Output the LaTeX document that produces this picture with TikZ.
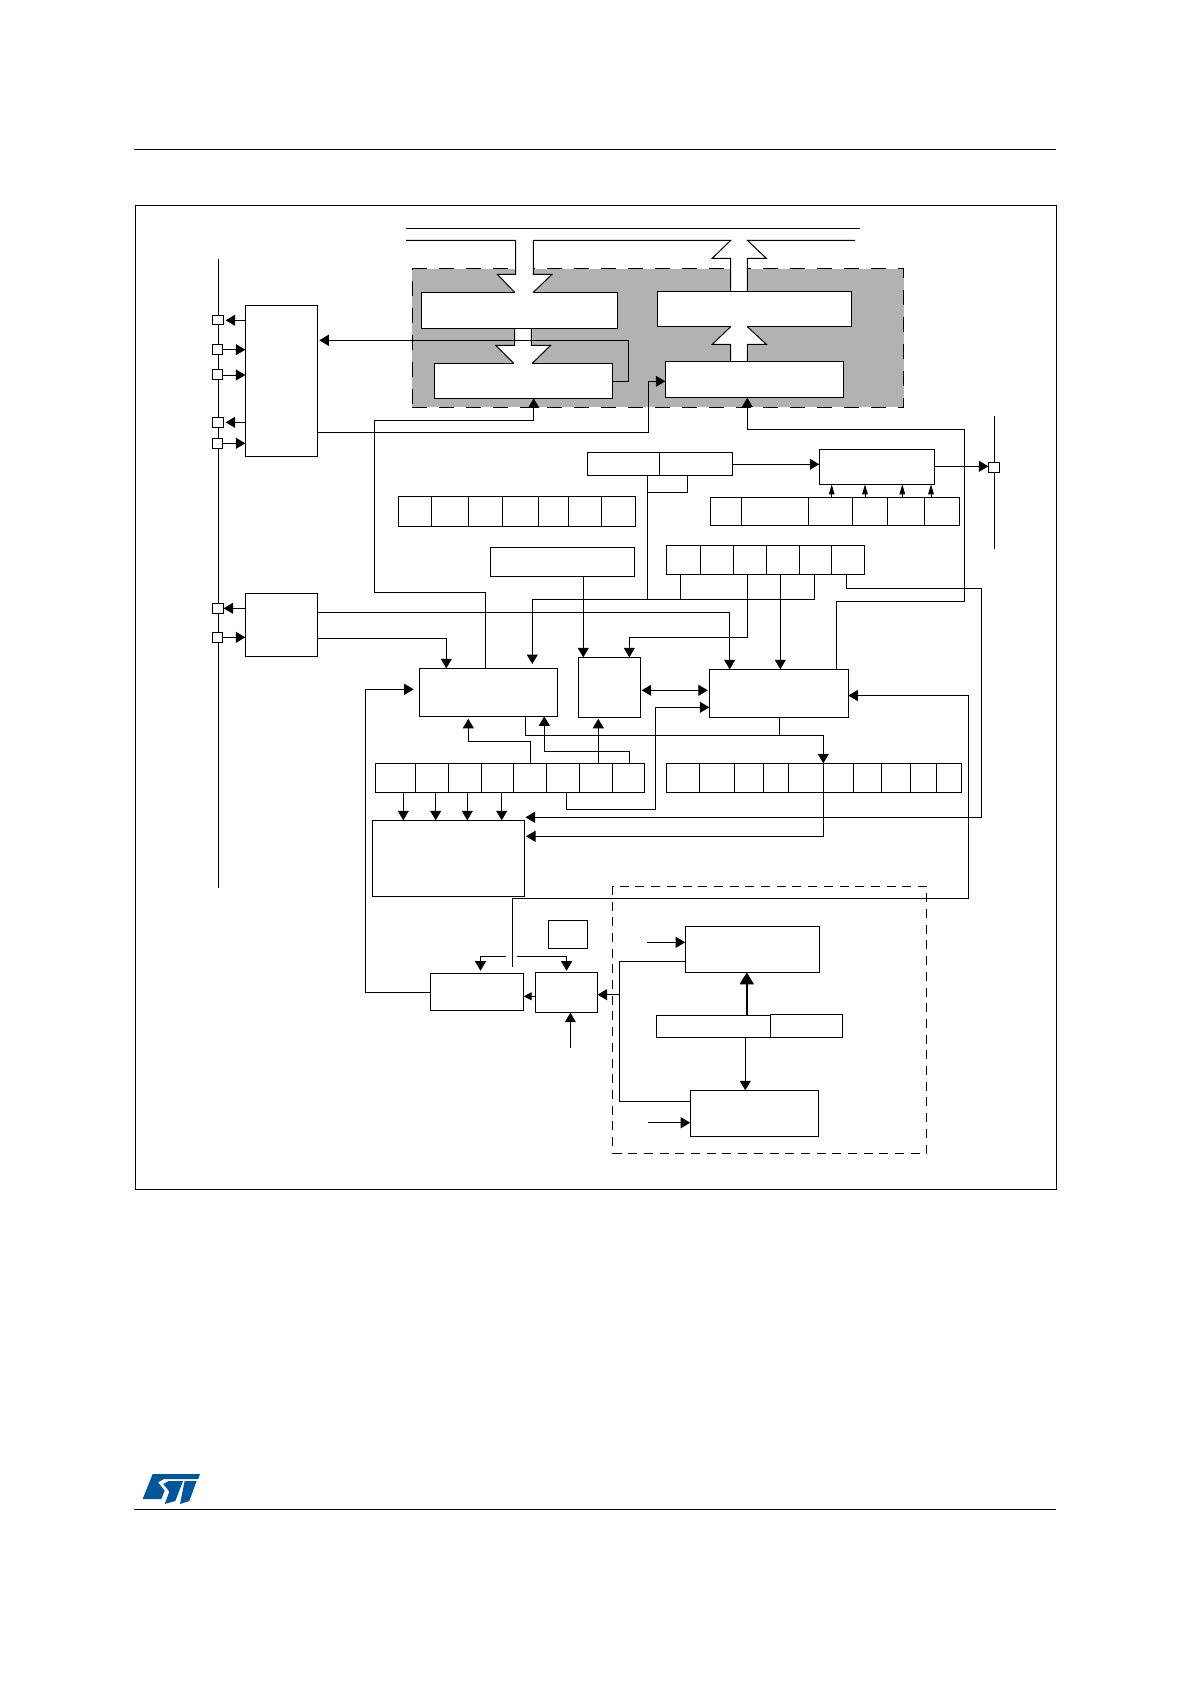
\documentclass[tikz,border=0pt]{standalone}
\usepackage{tikz}
\usetikzlibrary{arrows.meta}

\definecolor{coregrey}{HTML}{B2B2B2}
\definecolor{stblue}{HTML}{03569B}

\tikzset{
    wire/.style={line width=1pt},
    blockbox/.style={draw, fill=white, line width=1pt, inner sep=0pt, outer sep=0pt},
    corebox/.style={draw, fill=coregrey, line width=1pt, dash pattern=on 15pt off 12pt, inner sep=0pt, outer sep=0pt},
    dashbox/.style={draw, line width=0.9pt, dash pattern=on 9pt off 6.7pt, inner sep=0pt, outer sep=0pt},
    arr/.style={wire, -{Triangle[length=9.5pt,width=11pt]}},
    arrtwo/.style={wire, {Triangle[length=9.5pt,width=11pt]}-{Triangle[length=9.5pt,width=11pt]}},
    arrthin/.style={wire, -{Triangle[length=10pt,width=5.5pt]}},
    arrsmall/.style={wire, -{Triangle[length=8pt,width=8pt]}},
    arrthick/.style={line width=1.7pt, -{Triangle[length=12pt,width=14pt]}},
    busfill/.style={fill=white},
    busgap/.style={white, line width=1.6pt},
}

\newcommand{\blk}[6][blockbox]{%
    \node[#1, minimum width={(#5-#3)*1pt}, minimum height={(#6-#4)*1pt}] (#2) at ({(#3+#5)/2},{(#4+#6)/2}) {};}

\begin{document}
\begin{tikzpicture}[x=1pt,y=-1pt]
    \useasboundingbox (0,0) rectangle (1190,1684);

    \draw[wire] (134,149.3) -- (1056,149.3);
    \draw[wire] (134,1509.3) -- (1056,1509.3);
    \blk{frameBox}{135.3}{205.3}{1056.5}{1189.3}

    \blk[corebox]{coreBg}{412.3}{268.7}{903.7}{407.3}

    \draw[wire] (406,228.3) -- (859.7,228.3);

    \fill[busfill] (515.7,240.3) -- (515.7,274.3) -- (497.3,274.3) -- (514.7,292.3) -- (533.3,292.3) -- (552,274.3) -- (533.3,274.3) -- (533.3,240.3) -- cycle;
    \fill[busfill] (730.7,295) -- (730.7,258.3) -- (712.3,258.3) -- (730.7,240.3) -- (747.3,240.3) -- (766.3,258.3) -- (747.3,258.3) -- (747.3,295) -- cycle;
    \fill[busfill] (514.7,325) -- (514.7,345.3) -- (495.7,345.3) -- (513.7,363.3) -- (532.3,363.3) -- (550.7,345.3) -- (531.3,345.3) -- (531.3,325) -- cycle;
    \fill[busfill] (730.7,365) -- (730.7,344.3) -- (712.3,344.3) -- (730.7,326.7) -- (747.3,326.7) -- (766.3,344.3) -- (747.3,344.3) -- (747.3,365) -- cycle;

    \draw[wire] (406,240.3) -- (515.7,240.3) -- (515.7,274.3) -- (497.3,274.3) -- (514.7,292.3);
    \draw[wire] (533.3,240.3) -- (533.3,274.3) -- (552,274.3) -- (533.3,292.3);
    \draw[wire] (533.3,240.3) -- (730.7,240.3) -- (712.3,258.3) -- (730.7,258.3) -- (730.7,291.3);
    \draw[wire] (855,240.3) -- (747.3,240.3) -- (766.3,258.3) -- (747.3,258.3) -- (747.3,291.3);
    \draw[wire] (514.7,328.3) -- (514.7,345.3) -- (495.7,345.3) -- (513.7,363.3);
    \draw[wire] (531.3,328.3) -- (531.3,345.3) -- (550.7,345.3) -- (532.3,363.3);
    \draw[wire] (730.7,361.3) -- (730.7,344.3) -- (712.3,344.3) -- (730.7,326.7);
    \draw[wire] (747.3,361.3) -- (747.3,344.3) -- (766.3,344.3) -- (747.3,326.7);

    \blk{tdrBox}{421.3}{292.3}{617.3}{328.3}
    \blk{rdrBox}{657.3}{291.3}{851.7}{326.7}
    \blk{txShift}{434.3}{363.3}{612.7}{398.3}
    \blk{rxShift}{665.3}{361.3}{843.7}{397.7}

    \draw[busgap] (515.4,292.3) -- (532.8,292.3);
    \draw[busgap] (514.4,363.3) -- (531.8,363.3);
    \draw[busgap] (731.2,326.7) -- (746.8,326.7);

    \draw[wire] (218.3,259.3) -- (218.3,887.7);
    \draw[wire] (994.7,416) -- (994.7,548.7);

    \blk{padA}{212.3}{315.3}{223.7}{324.3}
    \blk{padB}{212.3}{344.3}{222.7}{354.7}
    \blk{padC}{212.3}{369.3}{222.7}{379.7}
    \blk{padD}{212.3}{417.3}{223.7}{427.3}
    \blk{padE}{212.3}{438.3}{222.7}{448.7}
    \blk{padF}{212.3}{603.3}{223.7}{613.3}
    \blk{padG}{212.3}{632.3}{222.7}{642.7}
    \blk{padH}{988.3}{462.3}{999.3}{472.3}

    \blk{irdaBox}{245.3}{305.3}{317.3}{456.3}
    \blk{flowBox}{245.3}{593.3}{317.3}{656.3}
    \blk{gtprL}{587.3}{452.3}{659.3}{475.3}
    \blk{gtprR}{659.3}{452.3}{732.7}{475.3}
    \blk{sclkBox}{819.3}{449.3}{934.3}{484.3}
    \blk{addrBox}{490.3}{547.3}{634.3}{576.3}
    \blk{txCtrl}{419.3}{668.3}{557.3}{716.3}
    \blk{wakeBox}{578.3}{657.3}{640.7}{717.3}
    \blk{rxCtrl}{709.3}{669.3}{848.3}{717.3}
    \blk{statBox}{372.3}{820.3}{524.3}{896.3}

    \foreach \i/\xa/\xb in {1/398.3/431.7,2/431.7/468.3,3/468.3/502.7,4/502.7/538.3,5/538.3/568.7,6/568.7/601.7,7/601.7/635}
        {\blk{rowg\i}{\xa}{496.3}{\xb}{526}}
    \foreach \i/\xa/\xb in {1/710.3/741.3,2/741.3/808.3,3/808.3/852.3,4/852.3/887.3,5/887.3/924.3,6/924.3/959.3}
        {\blk{rowf\i}{\xa}{497.3}{\xb}{525.3}}
    \foreach \i/\xa/\xb in {1/666.3/700.3,2/700.3/733.3,3/733.3/766.3,4/766.3/799.3,5/799.3/831.3,6/831.3/864.3}
        {\blk{rowh\i}{\xa}{545.3}{\xb}{574.3}}
    \foreach \i/\xa/\xb in {1/375.3/415.3,2/415.3/448.3,3/448.3/481.3,4/481.3/513.3,5/513.3/546.3,6/546.3/579.3,7/579.3/612.3,8/612.3/644.3}
        {\blk{rowm\i}{\xa}{763.3}{\xb}{792.3}}
    \foreach \i/\xa/\xb in {1/666.3/699.3,2/699.3/734.3,3/734.3/763.3,4/763.3/788.3,5/788.3/823.3,6/823.3/853.3,7/853.3/881.3,8/881.3/910.3,9/910.3/936.3,10/936.3/961.3}
        {\blk{rowo\i}{\xa}{763.3}{\xb}{792.3}}

    \blk[dashbox]{baudBg}{612.5}{886.3}{926.7}{1153.3}
    \blk{smallBox}{548.2}{920.3}{587.6}{948.7}
    \blk{txRate}{430.4}{973.3}{523.7}{1010.3}
    \blk{rateCtrl}{535.2}{972.3}{597.6}{1012.7}
    \blk{fracGen}{685.2}{926.3}{819.5}{972.3}
    \blk{intGen}{690.2}{1090.3}{818.8}{1136.3}
    \blk{divMant}{656.5}{1015.3}{770.5}{1037.3}
    \blk{divFrac}{770.5}{1014.3}{842.5}{1037.3}

    \coordinate (clkFrac) at (647,942.3);
    \coordinate (clkInt) at (648,1122.7);
    \coordinate (clkRate) at (570.4,1047.7);
    \coordinate (overEnd) at (512.3,966.7);
    \coordinate (overLeft) at (506.1,956.3);
    \coordinate (overRight) at (516.5,956.3);
    \coordinate (tipTx) at (532.3,664);
    \coordinate (tipStatA) at (525.5,817.3);
    \coordinate (tipStatB) at (526,836.3);

    \draw[arr, shorten >=2pt] (irdaBox.west |- 0,320.3) -- (padA.east |- 0,320.3);
    \draw[arr] (padB.east |- 0,349.7) -- (irdaBox.west |- 0,349.7);
    \draw[arr] (padC.east |- 0,375) -- (irdaBox.west |- 0,375);
    \draw[arr, shorten >=2pt] (irdaBox.west |- 0,422.3) -- (padD.east |- 0,422.3);
    \draw[arr] (padE.east |- 0,443.3) -- (irdaBox.west |- 0,443.3);
    \draw[arr] (flowBox.west |- 0,608.3) -- (padF.east |- 0,608.3);
    \draw[arr] (padG.east |- 0,637.3) -- (flowBox.west |- 0,637.3);

    \draw[arr, shorten >=2pt] (txShift.east |- 0,381.3) -- (628.3,381.3) -- (628.3,340.3) -- (irdaBox.east |- 0,340.3);
    \draw[arr] (irdaBox.east |- 0,432.3) -- (648.3,432.3) -- (648.3,381.3) -- (rxShift.west |- 0,381.3);
    \draw[arr] (485.3,0 |- txCtrl.north) -- (485.3,592.3) -- (374.3,592.3) -- (374.3,420.3) -- (533.7,420.3) -- (533.7,0 |- txShift.south);
    \draw[arr] (836.3,0 |- rxCtrl.north) -- (836.3,601.3) -- (964.3,601.3) -- (964.3,429.3) -- (747.3,429.3) -- (747.3,0 |- rxShift.south);

    \draw[arr] (gtprR.east |- 0,464.3) -- (sclkBox.west |- 0,464.3);
    \draw[arr] (sclkBox.east |- 0,466.3) -- (padH.west |- 0,466.3);
    \draw[arrthin] (831.7,0 |- rowf3.north) -- (831.7,0 |- sclkBox.south);
    \draw[arrthin] (865,0 |- rowf4.north) -- (865,0 |- sclkBox.south);
    \draw[arrthin] (902.3,0 |- rowf5.north) -- (902.3,0 |- sclkBox.south);
    \draw[arrthin] (931,0 |- rowf6.north) -- (931,0 |- sclkBox.south);

    \draw[wire] (647.3,0 |- gtprL.south) -- (647.3,599.3);
    \draw[wire] (687.7,0 |- gtprR.south) -- (687.7,492.3) -- (647.3,492.3);
    \draw[wire] (680.3,0 |- rowh1.south) -- (680.3,599.3);
    \draw[arr] (814.3,0 |- rowh5.south) -- (814.3,599.3) -- (532.3,599.3) -- (tipTx);
    \draw[arr] (747.3,0 |- rowh3.south) -- (747.3,637.3) -- (629.3,637.3) -- (629.3,0 |- wakeBox.north);
    \draw[arr] (780.3,0 |- rowh4.south) -- (780.3,0 |- rxCtrl.north);
    \draw[arr] (846.3,0 |- rowh6.south) -- (846.3,588.3) -- (981.3,588.3) -- (981.3,817.3) -- (tipStatA);
    \draw[arr] (583.3,0 |- addrBox.south) -- (583.3,0 |- wakeBox.north);

    \draw[arr] (flowBox.east |- 0,612.3) -- (729.7,612.3) -- (729.7,0 |- rxCtrl.north);
    \draw[arr] (flowBox.east |- 0,638.3) -- (446.3,638.3) -- (446.3,0 |- txCtrl.north);
    \draw[arrtwo, shorten <=1pt, shorten >=1.5pt] (wakeBox.east |- 0,690.3) -- (rxCtrl.west |- 0,690.3);

    \draw[arr] (403.3,0 |- rowm1.south) -- (403.3,0 |- statBox.north);
    \draw[arr] (435.7,0 |- rowm2.south) -- (435.7,0 |- statBox.north);
    \draw[arr] (467.3,0 |- rowm3.south) -- (467.3,0 |- statBox.north);
    \draw[arr] (501.7,0 |- rowm4.south) -- (501.7,0 |- statBox.north);

    \draw[arr, shorten >=2.5pt] (530.7,0 |- rowm5.north) -- (530.7,741.3) -- (468.3,741.3) -- (468.3,0 |- txCtrl.south);
    \draw[arr] (629.3,0 |- rowm8.north) -- (629.3,751.3) -- (544.3,751.3) -- (544.3,0 |- txCtrl.south);
    \draw[arr, shorten >=1.5pt] (598.3,0 |- rowm7.north) -- (598.3,0 |- wakeBox.south);
    \draw[arr] (566.7,0 |- rowm6.south) -- (566.7,809.3) -- (655.3,809.3) -- (655.3,707.3) -- (rxCtrl.west |- 0,707.3);

    \draw[arr] (525.3,0 |- txCtrl.south) -- (525.3,735.3) -- (823.3,735.3) -- (823.3,0 |- rowo5.north);
    \draw[wire] (779.3,0 |- rxCtrl.south) -- (779.3,735.3);
    \draw[arr] (823.3,0 |- rowo5.south) -- (823.3,836.3) -- (tipStatB);

    \draw[arr] (overEnd) -- (512.3,898.3) -- (968.3,898.3) -- (968.3,695.5) -- (rxCtrl.east |- 0,695.5);
    \draw[arr] (overLeft) -- (480.5,956.3) -- (480.5,970.7);
    \draw[arr] (overRight) -- (566.6,956.3) -- (566.6,970.7);

    \draw[arr, shorten >=5.6pt] (txRate.west |- 0,992.3) -- (365.3,992.3) -- (365.3,689.3) -- (txCtrl.west |- 0,689.3);
    \draw[arrsmall] (rateCtrl.west |- 0,996.3) -- (txRate.east |- 0,996.3);
    \draw[arr] (clkRate) -- (570.4,0 |- rateCtrl.south);
    \draw[wire] (fracGen.west |- 0,961.3) -- (619.4,961.3) -- (619.4,1101.3) -- (intGen.west |- 0,1101.3);
    \draw[arr] (619.4,994.7) -- (rateCtrl.east |- 0,994.7);
    \draw[arr] (clkFrac) -- (fracGen.west |- clkFrac);
    \draw[arr] (clkInt) -- (intGen.west |- clkInt);
    \draw[arrthick] (746.8,0 |- divMant.north) -- (746.8,0 |- fracGen.south);
    \draw[arr] (745.3,0 |- divMant.south) -- (745.3,0 |- intGen.north);

    \begin{scope}[shift={(120,1450)},x=0.3333pt,y=-0.3333pt]
        \fill[stblue] (98,72) -- (240,72) -- (235,87) -- (132,87) -- (114,97) -- (134,122) -- (124,147) -- (68,147) -- cycle;
        \fill[stblue] (146,93) -- (189,93) -- (166,153) -- (134,162) -- (148,125) -- (130,102) -- cycle;
        \fill[stblue] (194,93) -- (230,93) -- (208,153) -- (180,162) -- cycle;
    \end{scope}
\end{tikzpicture}
\end{document}
